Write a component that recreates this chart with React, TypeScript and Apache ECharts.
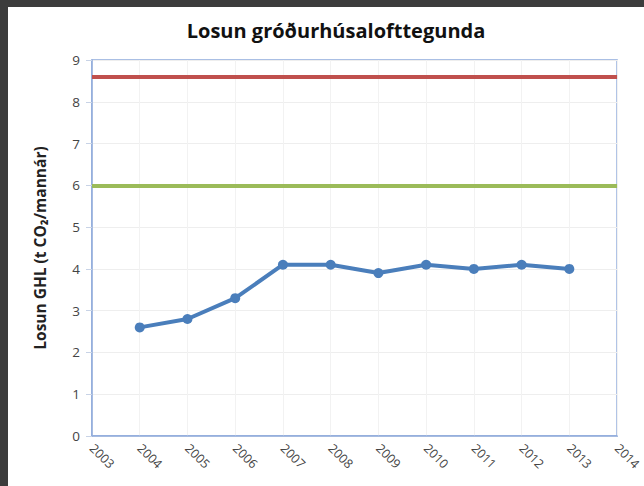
import React, { useEffect, useRef } from "react";
import * as echarts from "echarts";

const years = ["2003", "2004", "2005", "2006", "2007", "2008", "2009", "2010", "2011", "2012", "2013", "2014"];
const emissions = [null, 2.6, 2.8, 3.3, 4.1, 4.1, 3.9, 4.1, 4.0, 4.1, 4.0, null];
const redLevel = 8.6;
const greenLevel = 6.0;
const yTicks = [0, 9, 1];

export default function App() {
  const ref = useRef<HTMLDivElement>(null);
  useEffect(() => {
    if (!ref.current) return;
    const chart = echarts.init(ref.current, undefined, { renderer: "svg" });
    const font = "'Open Sans', 'Liberation Sans', sans-serif";
    chart.setOption({
      animation: false,
      backgroundColor: "#3c3c3c",
      graphic: [
        { type: "rect", z: -10, shape: { x: 8, y: 7, width: 636, height: 479 }, style: { fill: "#ffffff" } },
      ],
      title: {
        text: "Losun gróðurhúsalofttegunda",
        left: 331,
        textAlign: "center",
        top: 15,
        textStyle: { fontFamily: font, fontWeight: "bold", fontSize: 20, color: "#111" },
      },
      grid: {
        left: 92,
        right: 25,
        top: 60,
        bottom: 50,
        show: true,
        borderColor: "#8eaadb",
        borderWidth: 1.5,
      },
      xAxis: {
        type: "category",
        data: years,
        boundaryGap: false,
        axisLine: { lineStyle: { color: "#8eaadb", width: 1.5 } },
        axisTick: { show: false },
        axisLabel: { rotate: -45, fontFamily: font, fontSize: 12.5, color: "#444", margin: 10 },
        splitLine: { show: true, lineStyle: { color: "#f2f2f2" } },
      },
      yAxis: {
        type: "value",
        min: yTicks[0],
        max: yTicks[1],
        interval: yTicks[2],
        name: "Losun GHL (t CO₂/mannár)",
        nameLocation: "middle",
        nameGap: 44,
        nameTextStyle: { fontFamily: font, fontWeight: "bold", fontSize: 15.5, color: "#222" },
        axisLine: { show: true, lineStyle: { color: "#8eaadb", width: 1.5 } },
        axisTick: { show: true, length: 6, lineStyle: { color: "#c8d3e6" } },
        axisLabel: { fontFamily: font, fontSize: 13.5, color: "#444", margin: 12 },
        splitLine: { show: true, lineStyle: { color: "#eeeeee" } },
      },
      series: [
        {
          type: "line",
          data: emissions,
          symbol: "circle",
          symbolSize: 10,
          lineStyle: { color: "#4a7ebb", width: 4 },
          itemStyle: { color: "#4a7ebb" },
          z: 5,
          markLine: {
            silent: true,
            symbol: "none",
            label: { show: false },
            data: [
              { yAxis: redLevel, lineStyle: { color: "#c0504d", width: 4, type: "solid" } },
              { yAxis: greenLevel, lineStyle: { color: "#9bbb59", width: 4, type: "solid" } },
            ],
          },
        },
      ],
    });
    return () => chart.dispose();
  }, []);
  return (
    <div style={{ position: "fixed", left: 0, top: 0, width: 644, height: 486 }}>
      <div ref={ref} style={{ width: 644, height: 486 }} />
    </div>
  );
}
